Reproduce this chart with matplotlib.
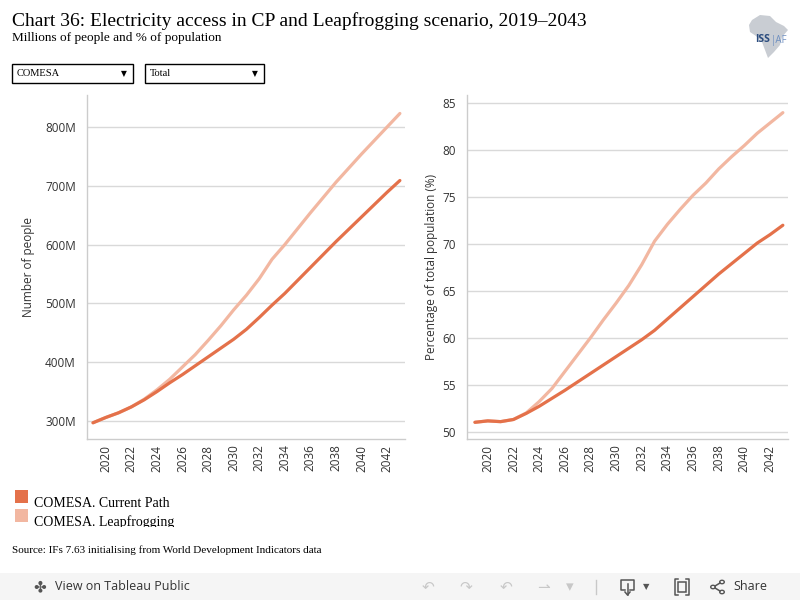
import matplotlib
matplotlib.use('Agg')
import matplotlib.pyplot as plt
from matplotlib.patches import Rectangle, Polygon, Circle
from matplotlib.lines import Line2D
from matplotlib.ticker import FuncFormatter
from matplotlib.transforms import Bbox

# data
years = list(range(2019, 2044))

people_cp = [297, 306, 314, 324, 336, 350, 365, 379, 394, 409, 424, 439, 456,
             476, 497, 517, 539, 561, 583, 605, 626, 647, 668, 689, 709]
people_lf = [297, 306, 314, 324, 337, 353, 371, 392, 413, 437, 462, 489, 514,
             542, 575, 600, 627, 654, 680, 706, 730, 754, 777, 800, 823]

pct_cp = [51.0, 51.15, 51.07, 51.3, 51.95, 52.7, 53.55, 54.4, 55.3, 56.2, 57.1,
          58.0, 58.9, 59.8, 60.8, 62.0, 63.2, 64.4, 65.6, 66.8, 67.9, 69.0,
          70.1, 71.0, 72.0]
pct_lf = [51.0, 51.15, 51.07, 51.3, 52.0, 53.2, 54.6, 56.4, 58.2, 60.0, 61.9,
          63.7, 65.6, 67.8, 70.3, 72.1, 73.7, 75.2, 76.5, 78.0, 79.3, 80.5,
          81.8, 82.9, 84.0]

series_names = ['COMESA. Current Path', 'COMESA. Leapfrogging']
people_ticks = [300, 400, 500, 600, 700, 800]
pct_ticks = [50, 55, 60, 65, 70, 75, 80, 85]
year_ticks = list(range(2020, 2043, 2))

CP_COLOR = '#E4714A'
LF_COLOR = '#F2B7A1'
GRID = '#D9D9D9'
TXT = '#333333'
ICON = '#555555'
SANS = ['Open Sans', 'DejaVu Sans']
SERIF = ['Liberation Serif', 'DejaVu Serif']

W, H = 800, 600
fig = plt.figure(figsize=(8, 6), dpi=100)
fig.patch.set_facecolor('white')


def fx(x):
    return x / W


def fy(y):
    return 1 - y / H


def px_axes(x0, y0, x1, y1):
    # pixel box (top-left origin) -> figure axes
    return fig.add_axes([fx(x0), fy(y1), (x1 - x0) / W, (y1 - y0) / H])


def seg(xs, ys, color=ICON, lw=1.1):
    fig.lines.append(Line2D([fx(x) for x in xs], [fy(y) for y in ys],
                            transform=fig.transFigure, color=color, lw=lw))


def style(ax, ticks):
    for s in ['top', 'right']:
        ax.spines[s].set_visible(False)
    for s in ['left', 'bottom']:
        ax.spines[s].set_color('#CCCCCC')
        ax.spines[s].set_linewidth(1)
    ax.set_yticks(ticks)
    ax.set_xticks(year_ticks)
    ax.grid(axis='y', color=GRID, linewidth=1)
    ax.set_axisbelow(True)
    ax.tick_params(axis='both', length=0, colors=TXT, labelsize=8.5)
    ax.tick_params(axis='y', pad=8)
    ax.tick_params(axis='x', labelrotation=90, pad=4)
    for lab in ax.get_xticklabels() + ax.get_yticklabels():
        lab.set_family(SANS)


# left chart: number of people
ax1 = px_axes(87, 95, 405, 439)
ax1.plot(years, people_lf, color=LF_COLOR, lw=2.3, solid_capstyle='round')
ax1.plot(years, people_cp, color=CP_COLOR, lw=2.3, solid_capstyle='round')
ax1.set_xlim(2018.53, 2043.4)
ax1.set_ylim(269.4, 854.4)
style(ax1, people_ticks)
ax1.yaxis.set_major_formatter(FuncFormatter(lambda v, p: f'{int(v)}M'))
ax1.set_ylabel('Number of people', fontsize=8.5, color=TXT, family=SANS, labelpad=7)

# right chart: percentage of population
ax2 = px_axes(467, 95, 788, 439)
ax2.plot(years, pct_lf, color=LF_COLOR, lw=2.3, solid_capstyle='round')
ax2.plot(years, pct_cp, color=CP_COLOR, lw=2.3, solid_capstyle='round')
ax2.set_xlim(2018.38, 2043.4)
ax2.set_ylim(49.22, 85.88)
style(ax2, pct_ticks)
ax2.set_ylabel('Percentage of total population (%)', fontsize=8.5, color=TXT,
               family=SANS, labelpad=3.5)

# header
fig.text(fx(12), fy(26), 'Chart 36: Electricity access in CP and Leapfrogging scenario, 2019\u20132043',
         fontsize=14, family=SERIF, color='black', va='baseline')
fig.text(fx(12), fy(41), 'Millions of people and % of population',
         fontsize=9.5, family=SERIF, color='black', va='baseline')

# dropdowns
for x0, x1, label in [(12, 133, 'COMESA'), (145, 264, 'Total')]:
    fig.patches.append(Rectangle((fx(x0), fy(83)), (x1 - x0) / W, 19 / H,
                                 transform=fig.transFigure, fill=False,
                                 edgecolor='black', linewidth=1))
    fig.text(fx(x0 + 5), fy(74), label, fontsize=7.5, family=SERIF, va='center')
    fig.text(fx(x1 - 9), fy(74), '\u25bc', fontsize=5.5, family='DejaVu Sans',
             va='center', ha='center')

# logo
africa = [(752, 20), (760, 15), (770, 16), (776, 22), (784, 26), (788, 30),
          (782, 37), (780, 45), (774, 52), (768, 58), (765, 50), (762, 42),
          (756, 36), (750, 32), (749, 25)]
fig.patches.append(Polygon([(fx(x), fy(y)) for x, y in africa], closed=True,
                           transform=fig.transFigure, facecolor='#C9CDD3',
                           edgecolor='none'))
fig.text(fx(755), fy(40), 'ISS', fontsize=7.5, color='#2B4C7E', family=SANS,
         fontweight='bold', va='center')
fig.text(fx(771), fy(40), '|AF', fontsize=7, color='#6E8FC0', family=SANS, va='center')

# legend
legend_rows = [(490, CP_COLOR), (509, LF_COLOR)]
for (y0, col), name in zip(legend_rows, series_names):
    fig.patches.append(Rectangle((fx(15), fy(y0 + 13)), 13 / W, 13 / H,
                                 transform=fig.transFigure, facecolor=col,
                                 edgecolor='none'))
    t = fig.text(fx(34), fy(y0 + 17), name, fontsize=10, family=SERIF,
                 va='baseline', color='black')
    t.set_clip_box(Bbox.from_extents(0, H - 527, W, H))

fig.text(fx(12), fy(553), 'Source: IFs 7.63 initialising from World Development Indicators data',
         fontsize=8, family=SERIF, va='baseline')

# tableau toolbar
fig.patches.append(Rectangle((0, 0), 1, 27 / H, transform=fig.transFigure,
                             facecolor='#F5F5F5', edgecolor='none'))
fig.text(fx(33), fy(587), '\u2724', fontsize=11, color=ICON,
         family='DejaVu Sans', va='center')
fig.text(fx(55), fy(587), 'View on Tableau Public', fontsize=9, color=TXT,
         family=SANS, va='center')
for x, g in [(428, '\u21b6'), (466, '\u21b7'), (506, '\u21b6'), (543, '\u21c0'),
             (570, '\u25be')]:
    fig.text(fx(x), fy(587), g, fontsize=11, color='#C8C8C8',
             family='DejaVu Sans', va='center', ha='center')
seg([596, 596], [580, 594], color='#C8C8C8', lw=1)

# download icon
seg([625, 621, 621, 634, 634, 630], [590, 590, 580, 580, 590, 590])
seg([627.5, 627.5], [584, 595])
seg([625, 627.5, 630], [592, 595, 592])
fig.text(fx(646), fy(587), '\u25bc', fontsize=6, color=ICON,
         family='DejaVu Sans', va='center', ha='center')

# fullscreen icon
fig.patches.append(Rectangle((fx(678), fy(592)), 8 / W, 10 / H,
                             transform=fig.transFigure, fill=False,
                             edgecolor=ICON, lw=1.1))
for cx, dx in [(675, 3), (689, -3)]:
    seg([cx + dx, cx, cx, cx + dx], [579, 579, 595, 595])

# share icon
for cx, cy in [(713, 587), (722, 582), (722, 592)]:
    fig.patches.append(Circle((fx(cx), fy(cy)), 2.3 / W, transform=fig.transFigure,
                              fill=False, edgecolor=ICON, lw=1))
seg([715, 720], [586, 583])
seg([715, 720], [588, 591])
fig.text(fx(733), fy(587), 'Share', fontsize=9, color=TXT, family=SANS, va='center')

fig.savefig('out.png', dpi=100)
